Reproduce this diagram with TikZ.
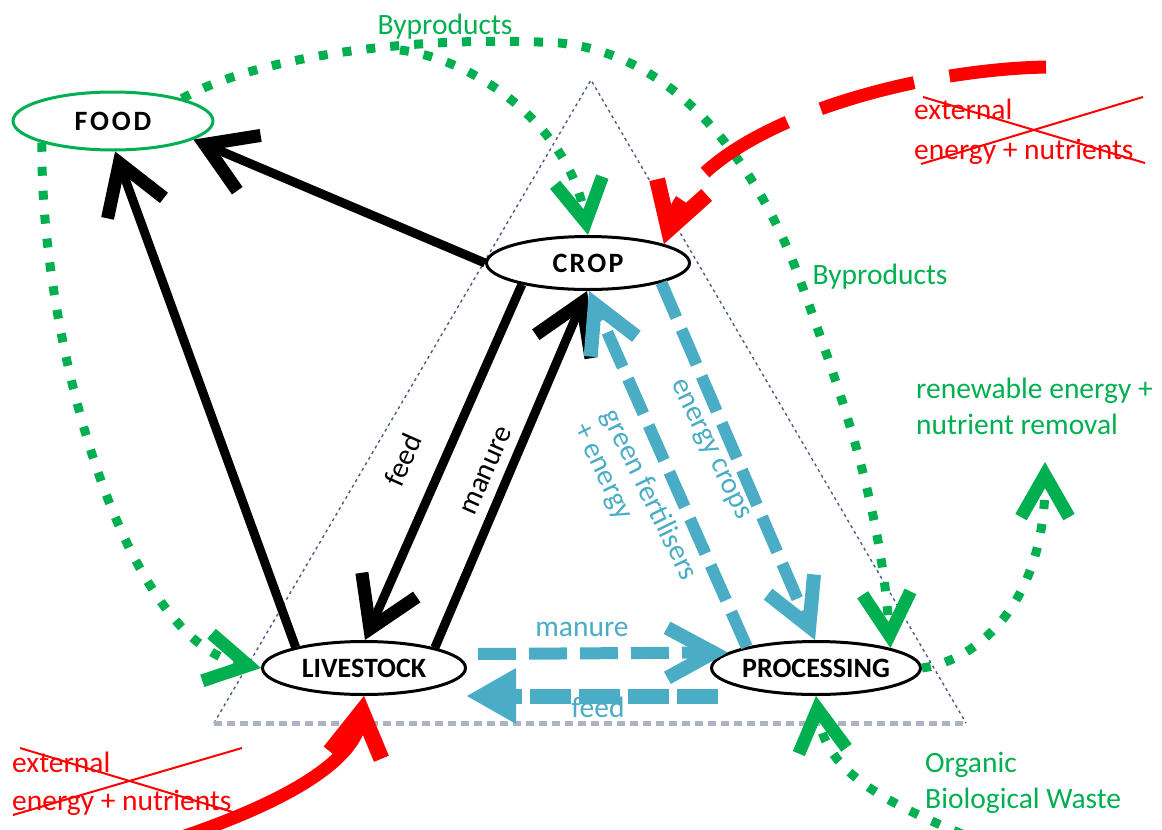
\documentclass[tikz,border=0pt]{standalone}
\usepackage{fontspec}
\setmainfont{Carlito}
\usetikzlibrary{shapes.geometric,arrows.meta}
\definecolor{gr}{HTML}{00B050}
\definecolor{bl}{HTML}{4BACC6}
\definecolor{rd}{HTML}{FF0000}
\definecolor{tri}{HTML}{4A5E84}
\definecolor{trib}{HTML}{AEB3C4}
\begin{document}
\begin{tikzpicture}[x=1pt,y=-1pt,
  lbl/.style={font=\fontsize{29.5}{36}\selectfont, inner sep=0pt},
  ell/.style={ellipse, draw=black, fill=white, line width=3pt, minimum width=203pt, minimum height=53pt, inner sep=0pt, font=\fontsize{28}{34}\selectfont\bfseries},
  triside/.style={draw=tri, line width=1.4pt, dash pattern=on 3pt off 3.5pt},
  tribase/.style={draw=trib, line width=5pt, dash pattern=on 8pt off 5pt},
  blk/.style={draw=black, line width=9pt, -{Straight Barb[length=48pt,width=60pt,line width=13pt]}},
  bld/.style={draw=bl, line width=12pt, dash pattern=on 38pt off 13pt, -{Straight Barb[length=46pt,width=50pt,line width=14pt]}},
  blfeed/.style={draw=bl, line width=15pt, dash pattern=on 41pt off 8pt, -{Triangle[length=50pt,width=52pt]}},
  grd/.style={draw=gr, line width=9pt, dash pattern=on 9pt off 15pt, -{Straight Barb[length=42pt,width=48pt,line width=13pt]}},
  redarr/.style={draw=rd, line width=13pt, -{Straight Barb[length=44pt,width=52pt,line width=16pt]}},
  cross/.style={draw=rd, line width=2pt}
]
\useasboundingbox (0,0) rectangle (1162,830);

% triangle
\coordinate (apex) at (591,80);
\coordinate (tbl) at (214,723);
\coordinate (tbr) at (966,723);
\draw[triside] (tbl) -- (apex) -- (tbr);
\draw[tribase] (tbl) -- (tbr);

% nodes
\node[ell, draw=gr, minimum width=200pt, minimum height=58pt] (food) at (113,121) {\addfontfeatures{LetterSpace=10}FOOD};
\node[ell] (crop) at (588,263) {\addfontfeatures{LetterSpace=8}CROP};
\node[ell] (livestock) at (364,668) {LIVESTOCK};
\node[ell] (processing) at (816,668) {PROCESSING};

% labels
\node[lbl, text=gr] (bp1) at (445,27) {Byproducts};
\node[lbl, text=gr] (bp2) at (880,277) {Byproducts};
\node[lbl, text=gr, align=left, anchor=west] (renew) at (916,406) {renewable energy +\\nutrient removal};
\node[lbl, text=gr, align=left, anchor=west] (organic) at (925,783) {Organic\\Biological Waste};
\node[lbl, text=rd, align=left, anchor=west, font=\fontsize{29.5}{40}\selectfont] (ext1) at (914,132) {external\\energy + nutrients};
\node[lbl, text=rd, align=left, anchor=west, font=\fontsize{29.5}{38}\selectfont] (ext2) at (12,784) {external\\energy + nutrients};
\draw[cross] (923,97) -- (1145,163);
\draw[cross] (1143,97) -- (921,164);
\draw[cross] (20,748) -- (236,813);
\draw[cross] (242,748) -- (13,815);

\node[lbl, rotate=66] (lfeed) at (403,460) {feed};
\node[lbl, rotate=66] (lmanure) at (487,471) {manure};
\node[lbl, text=bl] (bmanure) at (582,629) {manure};
\node[lbl, text=bl] (bfeed) at (598,707) {feed};
\node[lbl, text=bl, rotate=-64] (benergy) at (709,450) {energy crops};
\node[lbl, text=bl, rotate=-64, align=left, font=\fontsize{29.5}{31}\selectfont] (bgreen) at (635,502) {green fertilisers\\+ energy};

% black arrows
\draw[blk] (crop.180) -- (food.-13);
\draw[blk] (livestock.163) -- (food.-86);
\draw[blk] (crop.-162) -- (livestock.88);
\draw[blk] (livestock.16) -- (crop.-92);

% blue arrows
\draw[bld] (crop.-15) -- (processing.92);
\draw[bld] (processing.163) -- (crop.-88);
\draw[bld] ([shift={(114pt,14pt)}]livestock.center) -- (processing.170);
\draw[blfeed] ([xshift=-98pt]processing.south) -- ([xshift=102pt]livestock.south);

% green dotted arrows
\coordinate (split) at (400,50);
\draw[grd] (food.18) .. controls (260,55) and (420,35) .. (560,43) .. controls (680,55) and (760,170) .. (800,280) .. controls (840,390) and (880,500) .. (processing.15);
\draw[grd] (split) .. controls (480,60) and (570,130) .. (crop.90);
\draw[grd] (food.-163) .. controls (40,330) and (120,640) .. (livestock.180);
\coordinate (renewtip) at (1045,462);
\draw[grd] (processing.east) .. controls (980,660) and (1045,600) .. (renewtip);
\coordinate (waste) at (962,834);
\draw[grd] (waste) .. controls (880,800) and (825,770) .. (processing.south);

% red arrows
\coordinate (redbl) at (185,836);
\draw[redarr] (redbl) .. controls (290,800) and (355,760) .. (livestock.south);
\coordinate (redtr) at (1046,67);
\draw[redarr, dash pattern=on 97pt off 36pt] (redtr) .. controls (900,70) and (700,130) .. (crop.14);
\end{tikzpicture}
\end{document}
